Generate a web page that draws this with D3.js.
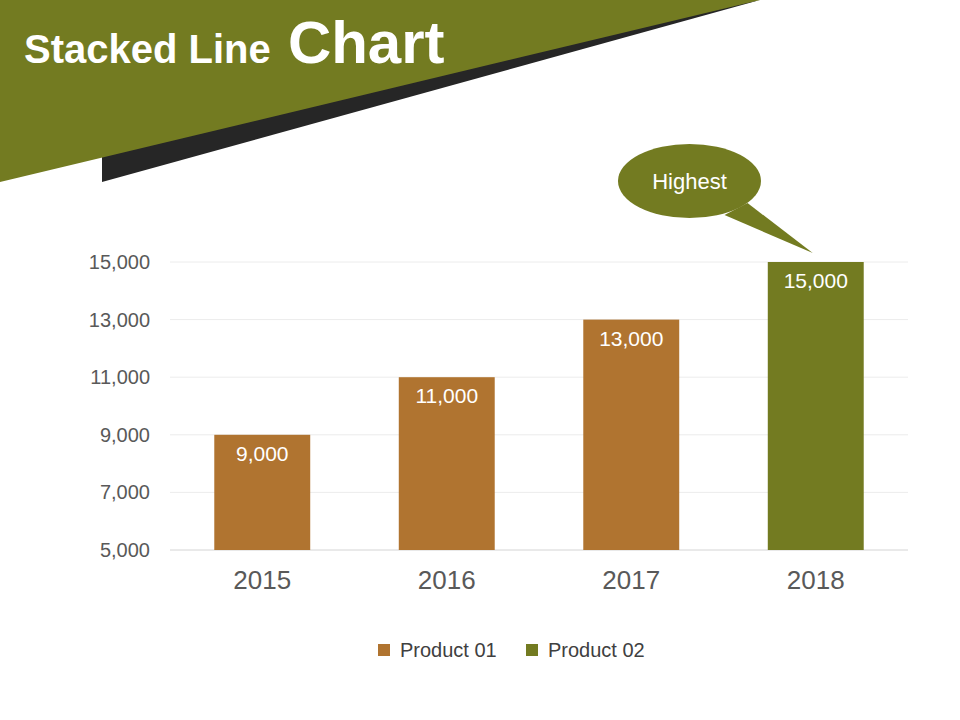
<!DOCTYPE html>
<html><head><meta charset="utf-8">
<script src="https://cdn.jsdelivr.net/npm/d3@7/dist/d3.min.js"></script>
<style>body{margin:0;background:#fff;}svg{display:block;font-family:"Liberation Sans",Arial,sans-serif;}</style>
</head><body>
<svg id="c" width="960" height="720"></svg>
<script>
const categories = ["2015","2016","2017","2018"];
const values = [9000, 11000, 13000, 15000];
const seriesOf = ["Product 01","Product 01","Product 01","Product 02"];
const seriesNames = ["Product 01","Product 02"];
const seriesColors = ["#B07430","#737B21"];
const yTicks = [5000,7000,9000,11000,13000,15000];
const calloutText = "Highest";

const svg = d3.select("#c");
const olive = "#737B21";

// header
svg.append("polygon").attr("points","102,120 102,182 760,0").attr("fill","#262626");
svg.append("polygon").attr("points","0,0 760,0 0,182").attr("fill",olive);
const t = svg.append("text").attr("x",24).attr("y",63).attr("fill","#fff").attr("font-weight","bold");
t.append("tspan").attr("font-size",40).text("Stacked Line ");
t.append("tspan").attr("font-size",60).attr("dx",6).text("Chart");

const x = d3.scaleBand().domain(categories).range([170,908]).paddingInner(0.48).paddingOuter(0.24);
const y = d3.scaleLinear().domain([5000,15000]).range([550,262]);
const color = d3.scaleOrdinal().domain(seriesNames).range(seriesColors);

// grid
svg.append("g").selectAll("line").data(yTicks).join("line")
  .attr("x1",170).attr("x2",908).attr("y1",d=>y(d)).attr("y2",d=>y(d))
  .attr("stroke",d=>d===5000?"#d4d4d4":"#ececec").attr("stroke-width",1);

// y axis
const ya = svg.append("g").attr("transform","translate(170,0)")
  .call(d3.axisLeft(y).tickValues(yTicks).tickSize(0).tickPadding(20).tickFormat(d3.format(",")));
ya.select(".domain").remove();
ya.selectAll("text").attr("font-size",20).attr("fill","#595959").attr("font-family","Liberation Sans, Arial, sans-serif");

// x axis
const xa = svg.append("g").attr("transform","translate(0,550)")
  .call(d3.axisBottom(x).tickSize(0).tickPadding(21));
xa.select(".domain").remove();
xa.selectAll("text").attr("font-size",26).attr("fill","#595959").attr("font-family","Liberation Sans, Arial, sans-serif");

// bars
const data = categories.map((c,i)=>({c, v:values[i], s:seriesOf[i]}));
svg.append("g").selectAll("rect").data(data).join("rect")
  .attr("x",d=>x(d.c)).attr("width",x.bandwidth())
  .attr("y",d=>y(d.v)).attr("height",d=>y(5000)-y(d.v))
  .attr("fill",d=>color(d.s));
svg.append("g").selectAll("text").data(data).join("text")
  .attr("x",d=>x(d.c)+x.bandwidth()/2).attr("y",d=>y(d.v)+26)
  .attr("text-anchor","middle").attr("fill","#fff").attr("font-size",21)
  .text(d=>d3.format(",")(d.v));

// callout
const maxD = data[data.length-1];
const tipX = x(maxD.c)+x.bandwidth()/2-3, tipY = y(maxD.v)-9;
const cx = 689.5, cy = 181;
svg.append("polygon").attr("points",`${cx+58},${cy+22} ${cx+35},${cy+34} ${tipX},${tipY}`).attr("fill",olive);
svg.append("ellipse").attr("cx",cx).attr("cy",cy).attr("rx",71.5).attr("ry",37).attr("fill",olive);
svg.append("text").attr("x",cx).attr("y",cy+8).attr("text-anchor","middle").attr("fill","#fff")
  .attr("font-size",22).text(calloutText);

// legend
const legX = [378, 526];
const lg = svg.append("g").selectAll("g").data(seriesNames).join("g")
  .attr("transform",(d,i)=>`translate(${legX[i]},644)`);
lg.append("rect").attr("width",12).attr("height",12).attr("fill",d=>color(d));
lg.append("text").attr("x",22).attr("y",13).attr("font-size",20).attr("fill","#404040").text(d=>d);
</script>
</body></html>
